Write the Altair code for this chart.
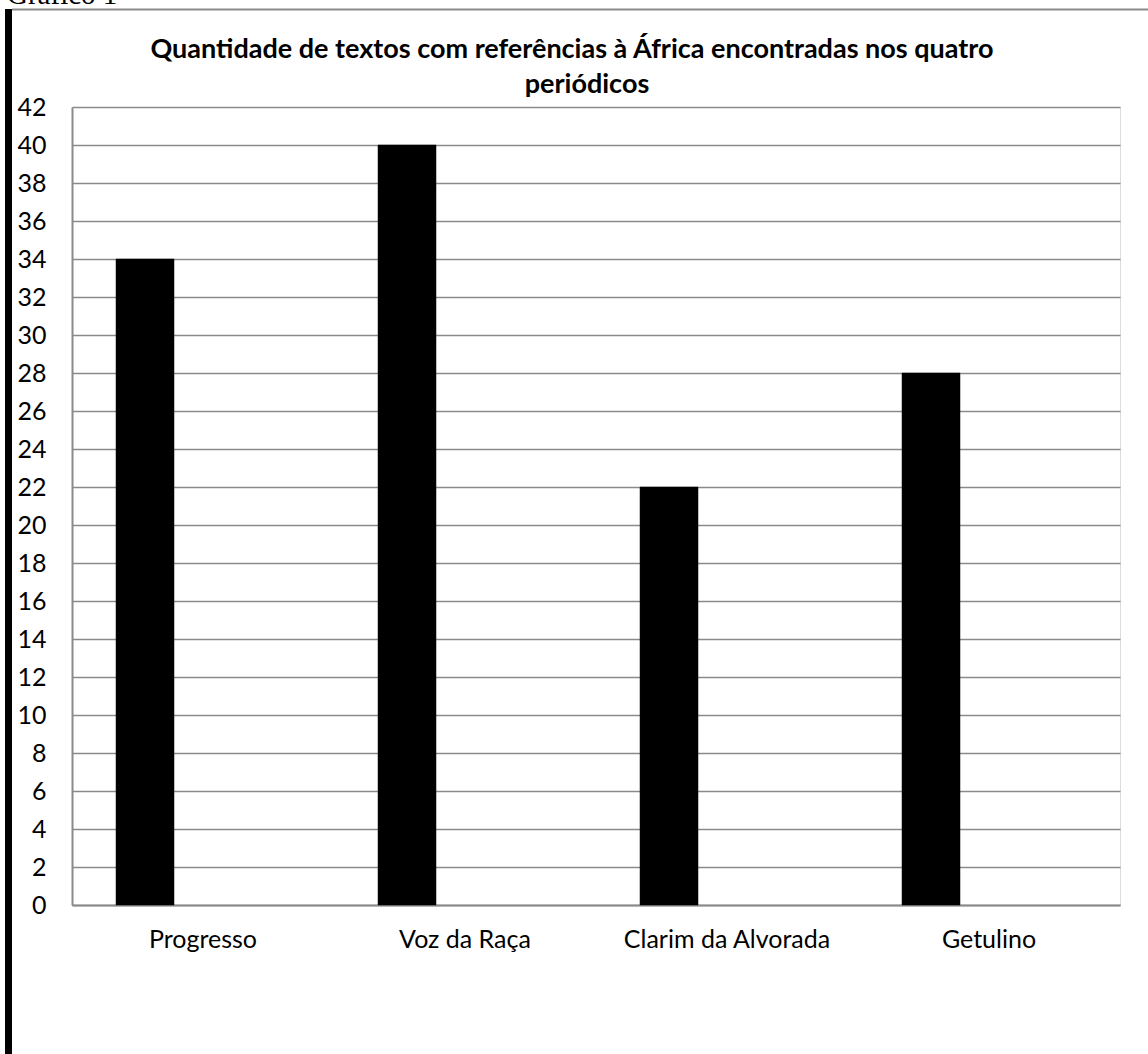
import altair as alt
import pandas as pd

# Periodicals and number of texts referring to Africa
categories = ["Progresso", "Voz da Raça", "Clarim da Alvorada", "Getulino"]
values = [34, 40, 22, 28]

# Series slots inside each category (only the first one holds data)
series_slots = ["Textos", "_b", "_c"]

y_ticks = list(range(0, 44, 2))

title_lines = [
    "Quantidade de textos com referências à África encontradas nos quatro",
    "periódicos",
]
caption = "Gráfico 1"

df = pd.DataFrame({
    "periodico": categories,
    "textos": values,
    "serie": [series_slots[0]] * len(categories),
})

GRID = "#8a8a8a"
FONT = "Lato"

bars = alt.Chart(df).mark_bar(color="#000000", stroke="#000000", strokeWidth=0.5).encode(
    x=alt.X(
        "periodico:N",
        sort=categories,
        scale=alt.Scale(paddingInner=0.336, paddingOuter=0.168),
        axis=alt.Axis(
            title=None,
            labelAngle=0,
            labelFont=FONT,
            labelFontSize=25,
            labelColor="#000000",
            labelPadding=22,
            labelLimit=0,
            ticks=False,
            domainColor=GRID,
            domainWidth=2,
            grid=False,
        ),
    ),
    xOffset=alt.XOffset(
        "serie:N",
        scale=alt.Scale(domain=series_slots, paddingInner=0, paddingOuter=0),
    ),
    y=alt.Y(
        "textos:Q",
        scale=alt.Scale(domain=[0, 42], nice=False),
        axis=alt.Axis(
            title=None,
            values=y_ticks,
            labelFont=FONT,
            labelFontSize=25,
            labelColor="#000000",
            labelPadding=26,
            ticks=False,
            domainColor=GRID,
            domainWidth=2,
            gridColor=GRID,
            gridWidth=1.6,
        ),
    ),
)

one = pd.DataFrame({"a": [0]})

# Page border on the left edge
left_border = alt.Chart(one).mark_rule(color="#000000", strokeWidth=7).encode(
    x=alt.value(-63.5), y=alt.value(-98), y2=alt.value(950)
)

# Outer frame line along the top of the chart area
top_border = alt.Chart(one).mark_rule(color=GRID, strokeWidth=2).encode(
    x=alt.value(-60), x2=alt.value(1080), y=alt.value(-97.5)
)

# Figure caption above the frame
caption_text = alt.Chart(one).mark_text(
    text=caption, font="Liberation Serif", fontSize=29, align="left",
    baseline="alphabetic", color="#000000",
).encode(x=alt.value(-65), y=alt.value(-103))

# Two-line chart heading, centred over the chart area
title_style = dict(font=FONT, fontSize=27, fontWeight="bold", align="center",
                   baseline="alphabetic", color="#000000")
title_1 = alt.Chart(one).mark_text(text=title_lines[0], **title_style).encode(
    x=alt.value(500), y=alt.value(-49)
)
title_2 = alt.Chart(one).mark_text(text=title_lines[1], **title_style).encode(
    x=alt.value(515), y=alt.value(-14)
)

chart = alt.layer(bars, left_border, top_border, caption_text, title_1, title_2).properties(
    width=1048,
    height=798,
    autosize=alt.AutoSizeParams(type="none"),
    padding={"left": 72, "top": 107, "right": 28, "bottom": 149},
).configure_view(stroke=None).configure(background="#ffffff")

chart.save("out.html", embed_options={"renderer": "svg", "actions": False})
